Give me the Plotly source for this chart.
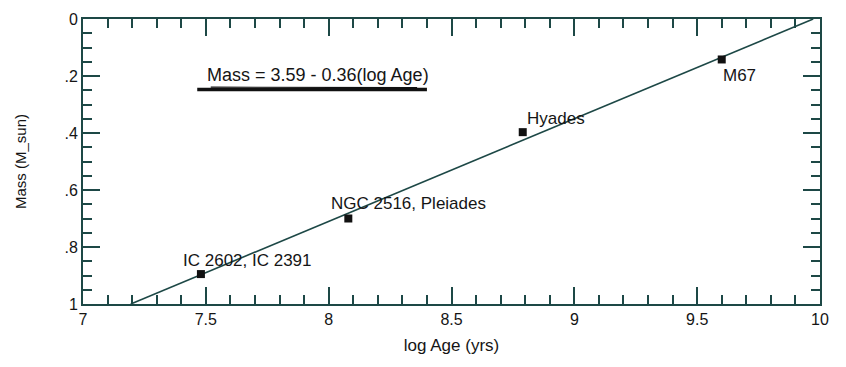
import numpy as np
import plotly.graph_objects as go

# Cluster turnoff data
clusters = ["IC 2602, IC 2391", "NGC 2516, Pleiades", "Hyades", "M67"]
log_age = [7.48, 8.08, 8.79, 9.60]
mass = [0.895, 0.70, 0.397, 0.142]

# Linear fit: Mass = a + b * log Age
fit_intercept = 3.59
fit_slope = -0.36

y_tickvals = [0, 0.2, 0.4, 0.6, 0.8, 1]
y_ticktext = ["0", ".2", ".4", ".6", ".8", "1"]
x_tickvals = [7, 7.5, 8, 8.5, 9, 9.5, 10]
x_ticktext = ["7", "7.5", "8", "8.5", "9", "9.5", "10"]
x_minor = [v for v in np.round(np.arange(7, 10.001, 0.1), 2) if v not in x_tickvals]
y_minor = [v for v in np.round(np.arange(0, 1.001, 0.05), 2) if v not in y_tickvals]

ink = "#1d4846"
text_col = "#151515"
font = "Liberation Sans, Arial, sans-serif"

# fit line spans mass 1 -> 0
fit_mass = np.array([1.0, 0.0])
fit_x = (fit_mass - fit_intercept) / fit_slope

fig = go.Figure()
fig.add_trace(go.Scatter(x=fit_x, y=fit_mass, mode="lines",
                         line=dict(color=ink, width=1.6), hoverinfo="skip"))
fig.add_trace(go.Scatter(x=log_age, y=mass, mode="markers",
                         marker=dict(symbol="square", size=8, color="#111111")))
# carrier for the short-tick overlay axes
fig.add_trace(go.Scatter(x=[None], y=[None], xaxis="x2", yaxis="y2",
                         mode="markers", hoverinfo="skip"))

# label offsets in pixels relative to each marker
offsets = [(-20, 14), (-19, 15), (2, 14), (-1, -16)]
for name, xv, yv, (dx, dy) in zip(clusters, log_age, mass, offsets):
    fig.add_annotation(x=xv, y=yv, text=name, showarrow=False,
                       xanchor="left", yanchor="middle", xshift=dx, yshift=dy,
                       font=dict(family=font, size=17, color=text_col))

# equation label with hand-drawn underline
fig.add_annotation(x=7.957, y=0.198, text="Mass = 3.59 - 0.36(log Age)",
                   showarrow=False, font=dict(family=font, size=18, color=text_col))
fig.add_shape(type="line", x0=7.465, x1=8.40, y0=0.247, y1=0.247,
              line=dict(color="#111111", width=3.5))
fig.add_shape(type="line", x0=7.52, x1=8.36, y0=0.239, y1=0.241,
              line=dict(color="#111111", width=1.2))

axis_common = dict(showline=True, linecolor=ink, linewidth=2, mirror="ticks",
                   ticks="inside", tickcolor=ink, tickwidth=2, ticklen=17,
                   showgrid=False, zeroline=False,
                   tickfont=dict(family=font, size=16, color=text_col))
short_common = dict(showline=True, linecolor=ink, linewidth=2, mirror="ticks",
                    ticks="inside", tickcolor=ink, tickwidth=2, ticklen=9,
                    showgrid=False, zeroline=False, showticklabels=False)

fig.update_layout(
    width=846, height=367, margin=dict(l=83, r=26, t=11, b=63),
    plot_bgcolor="white", paper_bgcolor="white", showlegend=False,
    xaxis=dict(range=[7, 10], tickvals=x_tickvals, ticktext=x_ticktext,
               title=dict(text="log Age (yrs)",
                          font=dict(family=font, size=17, color=text_col), standoff=12),
               **axis_common),
    yaxis=dict(range=[1, 0], tickvals=y_tickvals, ticktext=y_ticktext,
               title=dict(text="Mass (M_sun)",
                          font=dict(family=font, size=15, color=text_col), standoff=34),
               **axis_common),
    xaxis2=dict(range=[7, 10], tickvals=x_minor, overlaying="x", anchor="y2",
                side="bottom", **short_common),
    yaxis2=dict(range=[1, 0], tickvals=y_minor, overlaying="y", anchor="x2",
                side="left", **short_common),
)

fig.write_html("out.html")
